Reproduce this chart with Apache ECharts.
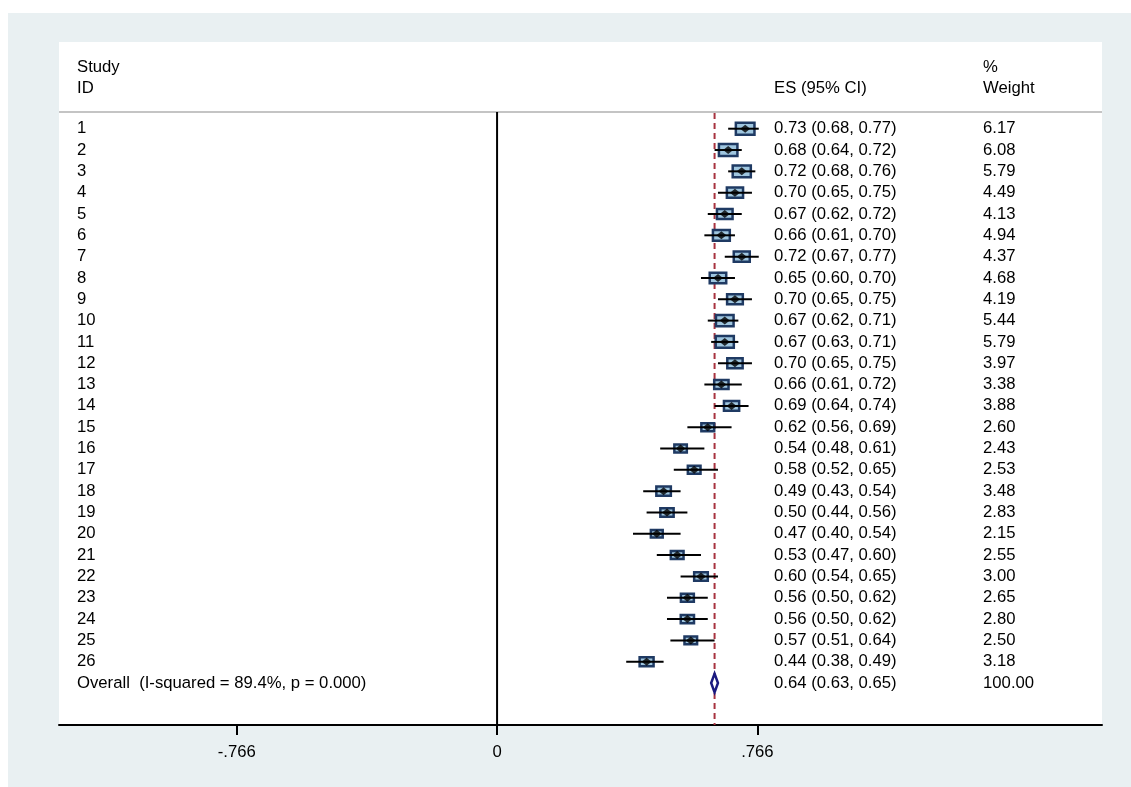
<!DOCTYPE html>
<html><head><meta charset="utf-8">
<script src="https://cdn.jsdelivr.net/npm/echarts@6/dist/echarts.min.js"></script>
<style>
html,body{margin:0;padding:0;background:#fff;}
#bg{position:absolute;left:8px;top:13px;width:1123px;height:774px;background:#e9f0f2;}
#c{position:absolute;left:0;top:0;width:1131px;height:787px;}
</style>
</head><body><div id="bg"></div><div id="c"></div>
<script>
// ---- data ----
const studyIds = ['1','2','3','4','5','6','7','8','9','10','11','12','13','14','15','16','17','18','19','20','21','22','23','24','25','26'];
const esValues = [0.73,0.68,0.72,0.70,0.67,0.66,0.72,0.65,0.70,0.67,0.67,0.70,0.66,0.69,0.62,0.54,0.58,0.49,0.50,0.47,0.53,0.60,0.56,0.56,0.57,0.44];
const ciLower  = [0.68,0.64,0.68,0.65,0.62,0.61,0.67,0.60,0.65,0.62,0.63,0.65,0.61,0.64,0.56,0.48,0.52,0.43,0.44,0.40,0.47,0.54,0.50,0.50,0.51,0.38];
const ciUpper  = [0.77,0.72,0.76,0.75,0.72,0.70,0.77,0.70,0.75,0.71,0.71,0.75,0.72,0.74,0.69,0.61,0.65,0.54,0.56,0.54,0.60,0.65,0.62,0.62,0.64,0.49];
const weights  = [6.17,6.08,5.79,4.49,4.13,4.94,4.37,4.68,4.19,5.44,5.79,3.97,3.38,3.88,2.60,2.43,2.53,3.48,2.83,2.15,2.55,3.00,2.65,2.80,2.50,3.18];
const overallLabel = 'Overall  (I-squared = 89.4%, p = 0.000)';
const overallES = 0.64;
const overallLower = 0.63;
const overallUpper = 0.65;
const overallWeight = 100.00;
const headerStudy = ['Study', 'ID'];
const headerES = 'ES (95% CI)';
const headerWeight = ['%', 'Weight'];
const tickValues = [-0.766, 0, 0.766];
const tickLabels = ['-.766', '0', '.766'];

// ---- layout constants ----
const X_MIN = -1.289, X_MAX = 1.780;
const Y_MIN = -3.067, Y_MAX = 28.968;
const COL_ID = -1.236, COL_ES = 0.815, COL_W = 1.430;
const ROW_H1 = -1.894, ROW_H2 = -0.909, ROW_LINE = 0.217;
const FONT = "'Liberation Sans', Arial, Helvetica, sans-serif";
const FS = 16.7;

const nStudies = studyIds.length;
const overallRow = nStudies + 1;
const f2 = v => v.toFixed(2);

// text items: [x, row, text]
const textItems = [];
textItems.push([COL_ID, ROW_H1, headerStudy[0]]);
textItems.push([COL_ID, ROW_H2, headerStudy[1]]);
textItems.push([COL_ES, ROW_H2, headerES]);
textItems.push([COL_W, ROW_H1, headerWeight[0]]);
textItems.push([COL_W, ROW_H2, headerWeight[1]]);
studyIds.forEach((s, i) => {
  textItems.push([COL_ID, i + 1, s]);
  textItems.push([COL_ES, i + 1, f2(esValues[i]) + ' (' + f2(ciLower[i]) + ', ' + f2(ciUpper[i]) + ')']);
  textItems.push([COL_W, i + 1, f2(weights[i])]);
});
textItems.push([COL_ID, overallRow, overallLabel]);
textItems.push([COL_ES, overallRow, f2(overallES) + ' (' + f2(overallLower) + ', ' + f2(overallUpper) + ')']);
textItems.push([COL_W, overallRow, f2(overallWeight)]);

const boxData = studyIds.map((s, i) => [esValues[i], i + 1, weights[i]]);
const ciData = studyIds.map((s, i) => [ciLower[i], ciUpper[i], i + 1]);
const dotData = studyIds.map((s, i) => [esValues[i], i + 1]);

const chart = echarts.init(document.getElementById('c'), null, {renderer: 'canvas'});
chart.setOption({
  backgroundColor: 'transparent',
  animation: false,
  grid: {left: 59, right: 29, top: 42, bottom: 62, show: true, backgroundColor: '#fff', borderWidth: 0},
  xAxis: {
    type: 'value', min: X_MIN, max: X_MAX,
    axisLine: {show: true, onZero: false, lineStyle: {color: '#000', width: 2}},
    axisTick: {show: true, customValues: tickValues, length: 10, inside: false, lineStyle: {color: '#000', width: 2}},
    axisLabel: {
      customValues: tickValues, margin: 19, color: '#000', fontSize: FS, fontFamily: FONT,
      formatter: v => { let k = 0; tickValues.forEach((t, j) => { if (Math.abs(t - v) < Math.abs(tickValues[k] - v)) k = j; }); return tickLabels[k]; }
    },
    splitLine: {show: false}
  },
  yAxis: {type: 'value', inverse: true, min: Y_MIN, max: Y_MAX, show: false, splitLine: {show: false}},
  series: [
    { // header separator + reference lines
      type: 'custom', silent: true, z: 1,
      data: [[0]],
      renderItem: (params, api) => {
        const hl1 = api.coord([X_MIN, ROW_LINE]), hl2 = api.coord([X_MAX, ROW_LINE]);
        const z1 = api.coord([0, ROW_LINE]), z2 = api.coord([0, Y_MAX]);
        const r1 = api.coord([overallES, ROW_LINE]), r2 = api.coord([overallES, Y_MAX]);
        return {type: 'group', children: [
          {type: 'line', shape: {x1: hl1[0], y1: hl1[1], x2: hl2[0], y2: hl2[1]}, style: {stroke: '#c4c4c4', lineWidth: 2}},
          {type: 'line', shape: {x1: z1[0], y1: z1[1], x2: z2[0], y2: z2[1]}, style: {stroke: '#000', lineWidth: 2}},
          {type: 'line', shape: {x1: r1[0], y1: r1[1] + 1, x2: r2[0], y2: r2[1]}, style: {stroke: '#a83340', lineWidth: 2, lineDash: [6, 4]}}
        ]};
      }
    },
    { // weight boxes
      type: 'custom', silent: true, z: 2,
      data: boxData,
      renderItem: (params, api) => {
        const c = api.coord([api.value(0), api.value(1)]);
        const W = 6.65 * Math.sqrt(api.value(2)) + 4.6;
        const H = W * 0.69;
        return {type: 'rect', shape: {x: c[0] - W / 2 + 1.25, y: c[1] - H / 2 + 1.25, width: W - 2.5, height: H - 2.5},
          style: {fill: '#9fc6df', stroke: '#1f3a63', lineWidth: 2.5}};
      }
    },
    { // confidence intervals
      type: 'custom', silent: true, z: 3,
      data: ciData,
      renderItem: (params, api) => {
        const a = api.coord([api.value(0), api.value(2)]);
        const b = api.coord([api.value(1), api.value(2)]);
        return {type: 'line', shape: {x1: a[0], y1: a[1], x2: b[0], y2: b[1]}, style: {stroke: '#000', lineWidth: 2}};
      }
    },
    { // point estimates
      type: 'scatter', silent: true, z: 4,
      symbol: 'diamond', symbolSize: [10, 8],
      itemStyle: {color: '#000'},
      data: dotData
    },
    { // overall diamond
      type: 'custom', silent: true, z: 4,
      data: [[overallLower, overallES, overallUpper, overallRow]],
      renderItem: (params, api) => {
        const r = api.value(3);
        const pL = api.coord([api.value(0), r]);
        const pT = api.coord([api.value(1), r - 0.44]);
        const pR = api.coord([api.value(2), r]);
        const pB = api.coord([api.value(1), r + 0.44]);
        return {type: 'polygon', shape: {points: [pL, pT, pR, pB]}, style: {fill: '#fff', stroke: '#1a1a80', lineWidth: 2.5}};
      }
    },
    { // text columns
      type: 'custom', silent: true, z: 5,
      data: textItems.map(t => [t[0], t[1]]),
      renderItem: (params, api) => {
        const c = api.coord([api.value(0), api.value(1)]);
        return {type: 'text', x: c[0], y: c[1],
          style: {text: textItems[params.dataIndex][2], fill: '#000', fontSize: FS, fontFamily: FONT, align: 'left', verticalAlign: 'middle'}};
      }
    }
  ]
});
</script>
</body></html>
